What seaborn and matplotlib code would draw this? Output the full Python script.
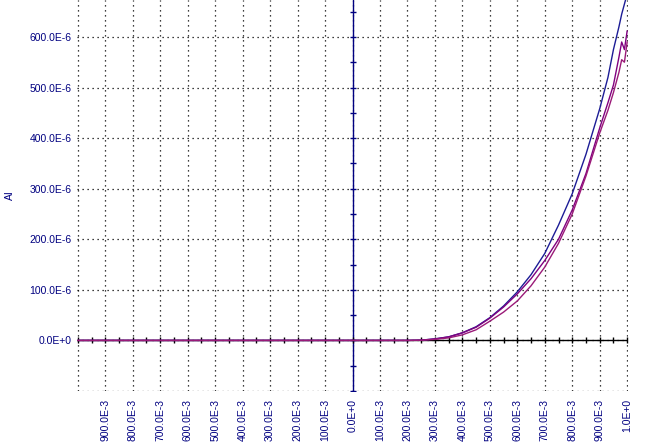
import numpy as np
import pandas as pd
import matplotlib
matplotlib.use("Agg")
import matplotlib.pyplot as plt
import seaborn as sns

# bias voltage (V) and the three current sweeps (in uA, scaled to A below)
volts = [-1.0, -0.75, -0.5, 0.0, 0.1, 0.2, 0.25, 0.3, 0.35, 0.4, 0.45, 0.5, 0.55, 0.6,
         0.65, 0.7, 0.75, 0.8, 0.85, 0.9, 0.93, 0.95, 0.97, 0.98, 0.99, 1.0]
sweep_blue = [0, 0, 0, 0, 0, 0, 0.5, 3, 7, 15, 27, 45, 68, 96,
              130, 172, 228, 290, 368, 458, 520, 575, 620, 645, 665, 685]
sweep_purple = [0, 0, 0, 0, 0, 0, 0.5, 3, 7, 15, 26, 44, 66, 92,
                122, 158, 200, 258, 330, 420, 470, 505, 560, 590, 575, 612]
sweep_magenta = [0, 0, 0, 0, 0, 0, 0.3, 2, 5, 11, 21, 38, 56, 78,
                 108, 145, 192, 250, 325, 410, 455, 490, 530, 555, 550, 590]

xtick_vals = [-0.9, -0.8, -0.7, -0.6, -0.5, -0.4, -0.3, -0.2, -0.1, 0.0,
              0.1, 0.2, 0.3, 0.4, 0.5, 0.6, 0.7, 0.8, 0.9, 1.0]
xtick_labels = ["900.0E-3", "800.0E-3", "700.0E-3", "600.0E-3", "500.0E-3",
                "400.0E-3", "300.0E-3", "200.0E-3", "100.0E-3", "0.0E+0",
                "100.0E-3", "200.0E-3", "300.0E-3", "400.0E-3", "500.0E-3",
                "600.0E-3", "700.0E-3", "800.0E-3", "900.0E-3", "1.0E+0"]
ytick_vals = [0, 100e-6, 200e-6, 300e-6, 400e-6, 500e-6, 600e-6]
ytick_labels = ["0.0E+0", "100.0E-6", "200.0E-6", "300.0E-6", "400.0E-6",
                "500.0E-6", "600.0E-6"]

sns.set_style("white")
plt.rcParams['font.family'] = ['Liberation Sans', 'DejaVu Sans']

navy = '#000080'

df = pd.DataFrame({
    'V': volts * 3,
    'I': np.array(sweep_blue + sweep_purple + sweep_magenta) * 1e-6,
    'sweep': ['blue'] * len(volts) + ['purple'] * len(volts) + ['magenta'] * len(volts),
})

fig = plt.figure(figsize=(6.45, 4.42), dpi=100)
ax = fig.add_axes([77 / 645, 51 / 442, 551 / 645, 391 / 442])

# dotted grid (minor ticks, kept even where they overlap the labelled ones)
ax.xaxis.remove_overlapping_locs = False
ax.yaxis.remove_overlapping_locs = False
ax.set_xticks(np.round(np.arange(-1.0, 1.01, 0.1), 2), minor=True)
ax.set_yticks(np.arange(-100e-6, 701e-6, 100e-6), minor=True)
ax.grid(which='minor', color='black', linestyle=(0, (1, 3)), linewidth=0.9)
ax.grid(which='major', visible=False)
ax.tick_params(which='both', length=0)

# origin axes with their own tick marks
ax.axhline(0, color='black', lw=1, zorder=2)
ax.axvline(0, color=navy, lw=1, zorder=2)
tx = np.arange(-1.0, 1.001, 0.05)
ax.plot(tx, np.zeros_like(tx), ls='none', marker='|', ms=4, mew=1, color='black', zorder=2)
ty = np.arange(-100e-6, 701e-6, 50e-6)
ax.plot(np.zeros_like(ty), ty, ls='none', marker='_', ms=4, mew=1, color=navy, zorder=2)

sns.lineplot(data=df, x='V', y='I', hue='sweep', ax=ax, legend=False, zorder=3,
             palette={'blue': '#1c1c96', 'purple': '#800080', 'magenta': '#9a1a78'},
             linewidth=1, estimator=None, sort=False)

ax.set_xlim(-1.003, 1.003)
ax.set_ylim(-100e-6, 673e-6)

ax.set_xticks(xtick_vals)
ax.set_xticklabels(xtick_labels, rotation=90, fontsize=7.5, color=navy)
ax.set_yticks(ytick_vals)
ax.set_yticklabels(ytick_labels, fontsize=7.5, color=navy)
ax.tick_params(axis='x', pad=6)
ax.tick_params(axis='y', pad=4)
ax.set_xlabel('')
ax.set_ylabel('AI', fontsize=7.5, color=navy, labelpad=10)

for s in ax.spines.values():
    s.set_visible(False)

fig.savefig('out.png', dpi=100)
